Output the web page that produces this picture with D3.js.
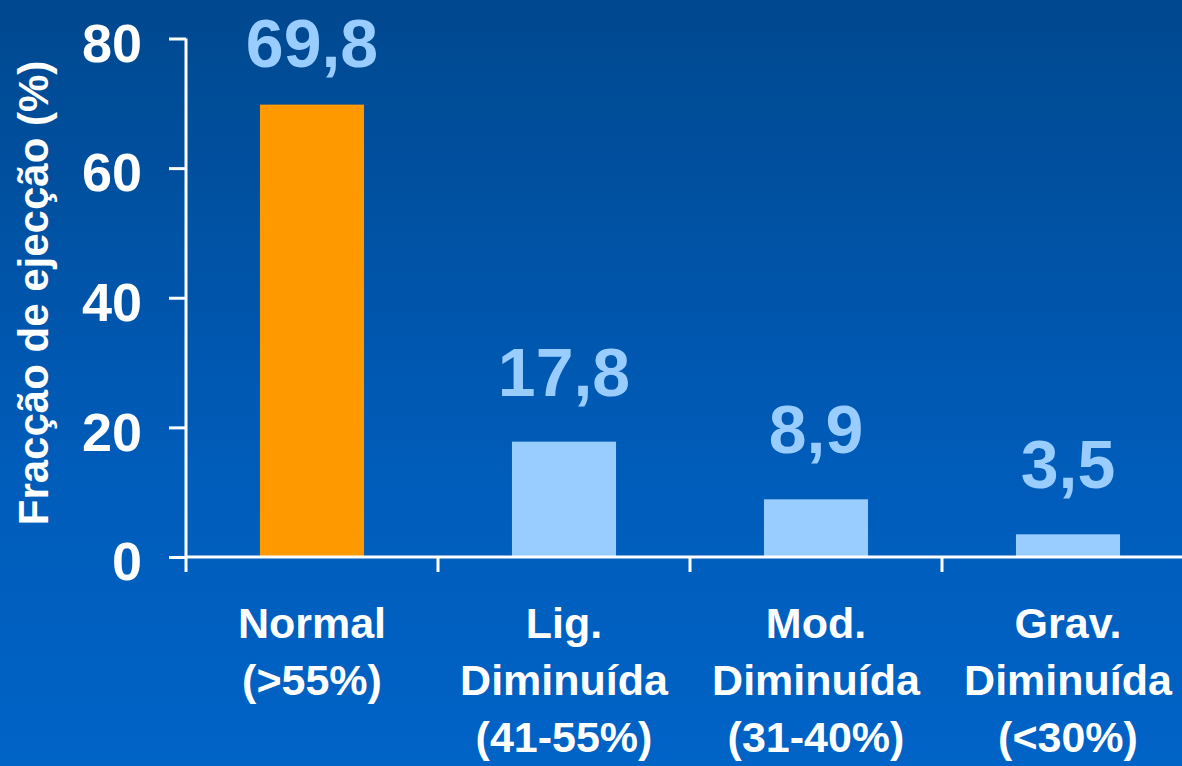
<!DOCTYPE html>
<html>
<head>
<meta charset="utf-8">
<script src="https://cdn.jsdelivr.net/npm/d3@7"></script>
<style>
  html, body { margin: 0; padding: 0; background: #0058b0; }
  svg { display: block; }
  text { font-family: "Liberation Sans", Arial, sans-serif; font-weight: bold; }
</style>
</head>
<body>
<div id="chart"></div>
<script>
// Data
const categories = ["Normal", "Lig. Diminuída", "Mod. Diminuída", "Grav. Diminuída"];
const categoryLines = [
  ["Normal", "(>55%)"],
  ["Lig.", "Diminuída", "(41-55%)"],
  ["Mod.", "Diminuída", "(31-40%)"],
  ["Grav.", "Diminuída", "(<30%)"]
];
const values = [69.8, 17.8, 8.9, 3.5];
const valueLabels = ["69,8", "17,8", "8,9", "3,5"];
const barColors = ["#ff9900", "#99ccff", "#99ccff", "#99ccff"];
const yTicks = [0, 20, 40, 60, 80];
const yTitle = "Fracção de ejecção (%)";

const width = 1182, height = 766;

const svg = d3.select("#chart").append("svg")
    .attr("width", width)
    .attr("height", height);

// background gradient
const defs = svg.append("defs");
const grad = defs.append("linearGradient")
    .attr("id", "bg")
    .attr("x1", 0).attr("y1", 0).attr("x2", 0).attr("y2", 1);
grad.append("stop").attr("offset", "0%").attr("stop-color", "#00488f");
grad.append("stop").attr("offset", "60%").attr("stop-color", "#005cb9");
grad.append("stop").attr("offset", "100%").attr("stop-color", "#0063c6");

svg.append("rect")
    .attr("width", width)
    .attr("height", height)
    .attr("fill", "url(#bg)");

// scales
const x = d3.scaleBand()
    .domain(categories)
    .range([186, 1194])
    .padding(0);

const y = d3.scaleLinear()
    .domain([0, 80])
    .range([557, 38.5]);

const barWidth = x.bandwidth() * 0.413;

// bars
svg.selectAll(".bar")
    .data(categories)
    .enter().append("rect")
    .attr("class", "bar")
    .attr("x", (d, i) => x(d) + (x.bandwidth() - barWidth) / 2)
    .attr("y", (d, i) => y(values[i]))
    .attr("width", barWidth)
    .attr("height", (d, i) => y(0) - y(values[i]))
    .attr("fill", (d, i) => barColors[i]);

// value labels (kept inside the top edge)
svg.selectAll(".value")
    .data(categories)
    .enter().append("text")
    .attr("class", "value")
    .attr("x", d => x(d) + x.bandwidth() / 2)
    .attr("y", (d, i) => Math.max(y(values[i]) - 46, 67))
    .attr("text-anchor", "middle")
    .attr("fill", "#99ccff")
    .style("font-size", "68px")
    .text((d, i) => valueLabels[i]);

// y axis
const yAxis = svg.append("g")
    .attr("transform", "translate(186,0)")
    .call(d3.axisLeft(y).tickValues(yTicks).tickSize(17).tickSizeOuter(0).tickPadding(27));

yAxis.select(".domain").remove();
yAxis.selectAll("line").attr("stroke", "#fff").attr("stroke-width", 3);
yAxis.selectAll("text")
    .attr("fill", "#fff")
    .attr("dy", "0.42em")
    .style("font-size", "54px");

// y axis line (runs a bit below zero)
svg.append("line")
    .attr("x1", 186).attr("x2", 186)
    .attr("y1", y(80)).attr("y2", y(0) + 15)
    .attr("stroke", "#fff")
    .attr("stroke-width", 3);

// x axis line
svg.append("line")
    .attr("x1", 186).attr("x2", width)
    .attr("y1", y(0)).attr("y2", y(0))
    .attr("stroke", "#fff")
    .attr("stroke-width", 3);

// x ticks at band boundaries
svg.selectAll(".xtick")
    .data(categories.slice(1))
    .enter().append("line")
    .attr("class", "xtick")
    .attr("x1", d => x(d)).attr("x2", d => x(d))
    .attr("y1", y(0)).attr("y2", y(0) + 15)
    .attr("stroke", "#fff")
    .attr("stroke-width", 3);

// category labels
const catLabels = svg.selectAll(".cat")
    .data(categories)
    .enter().append("text")
    .attr("class", "cat")
    .attr("text-anchor", "middle")
    .attr("fill", "#fff")
    .style("font-size", "43px");

catLabels.each(function(d, i) {
    const t = d3.select(this);
    categoryLines[i].forEach((line, j) => {
        t.append("tspan")
            .attr("x", x(d) + x.bandwidth() / 2)
            .attr("y", 638 + j * 57)
            .text(line);
    });
});

// y axis title
svg.append("text")
    .attr("transform", "translate(48,293) rotate(-90)")
    .attr("text-anchor", "middle")
    .attr("fill", "#fff")
    .style("font-size", "42px")
    .text(yTitle);
</script>
</body>
</html>
